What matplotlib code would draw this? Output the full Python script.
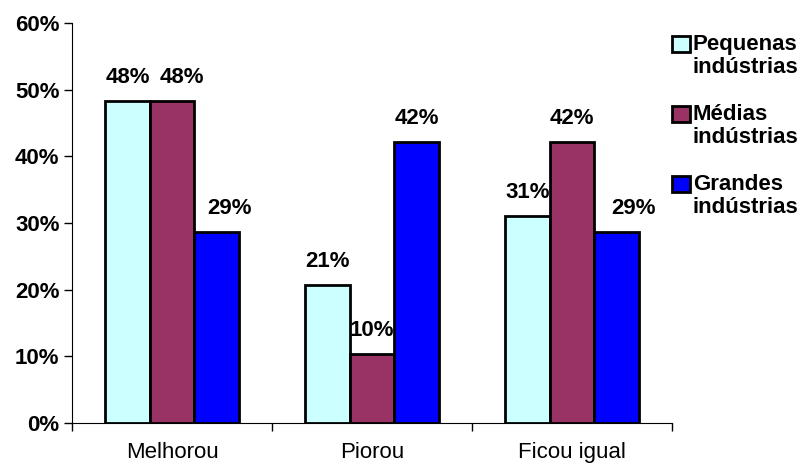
import numpy as np
from matplotlib import pyplot as plt
from matplotlib.patches import Rectangle

plt.rcParams['font.family'] = ['Liberation Sans', 'DejaVu Sans']

categorias = ['Melhorou', 'Piorou', 'Ficou igual']
series = ['Pequenas\nindústrias', 'Médias\nindústrias', 'Grandes\nindústrias']
pequenas = [0.483, 0.207, 0.310]
medias = [0.483, 0.103, 0.421]
grandes = [0.286, 0.421, 0.286]
cores = ['#CCFFFF', '#993366', '#0000FF']

# deslocamento horizontal (em pontos) de alguns rotulos, como no original
desloc = {(1, 0): 7, (2, 0): 9, (2, 2): 12}

W, H = 802, 466
fig = plt.figure(figsize=(W / 100, H / 100), dpi=100)
ax = fig.add_axes([72 / W, 1 - 423 / H, 600 / W, 400 / H])

x = np.arange(len(categorias))
w = 0.2225
valores = [pequenas, medias, grandes]
for i, vals in enumerate(valores):
    pos = x + (i - 1) * w
    ax.bar(pos, vals, w, color=cores[i], edgecolor='black', linewidth=2, zorder=2)
    for j, (p, v) in enumerate(zip(pos, vals)):
        ax.annotate('%.0f%%' % (v * 100), (p, v), xytext=(desloc.get((i, j), 0), 13),
                    textcoords='offset points', ha='center', va='baseline',
                    fontsize=16, fontweight='bold')

ax.set_xlim(-0.5, 2.5)
ax.set_ylim(0, 0.6)
yt = np.arange(0, 0.61, 0.1).round(2)
ax.set_yticks(yt)
ax.set_yticklabels(['%d%%' % round(t * 100) for t in yt], fontsize=16, fontweight='bold')
ax.set_xticks([-0.5, 0.5, 1.5, 2.5])
ax.set_xticklabels([])
ax.set_xticks(x, minor=True)
ax.set_xticklabels(categorias, minor=True, fontsize=16)
ax.tick_params(axis='x', which='minor', length=0, pad=14)
ax.tick_params(axis='both', which='major', length=6, width=1, direction='out', pad=3)
ax.spines['top'].set_visible(False)
ax.spines['right'].set_visible(False)

# legenda feita a mao
for i, (lab, c) in enumerate(zip(series, cores)):
    base = 73 + 70 * i  # baseline da segunda linha
    fig.patches.append(Rectangle((672 / W, 1 - 52 / H - 70 * i / H), 18 / W, 16 / H,
                                 facecolor=c, edgecolor='black', linewidth=2,
                                 transform=fig.transFigure, figure=fig))
    fig.text(693 / W, 1 - base / H, lab, ha='left', va='baseline', fontsize=16,
             fontweight='bold', linespacing=1.1, multialignment='left')

fig.savefig('out.png', dpi=100)
